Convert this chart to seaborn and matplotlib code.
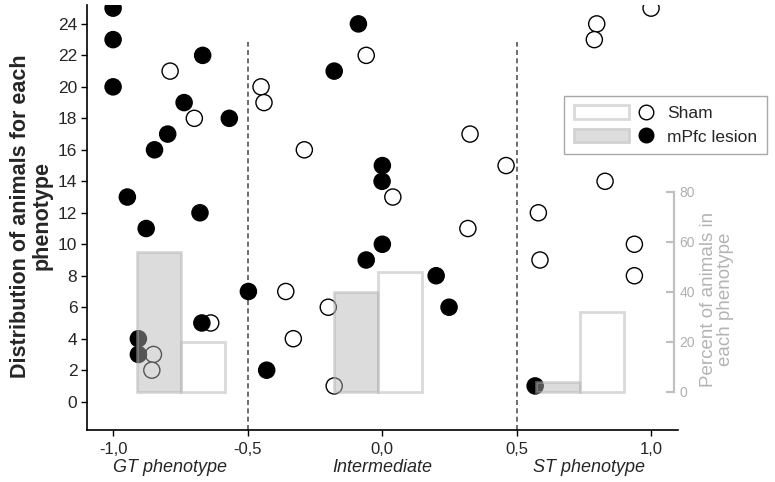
import numpy as np
import pandas as pd
import matplotlib
matplotlib.use("Agg")
import matplotlib.pyplot as plt
import seaborn as sns
from matplotlib.patches import Rectangle, Patch
from matplotlib.lines import Line2D

# ---------------- data ----------------
sham_x = [-0.788, -0.698, -0.637, -0.850, -0.856,
          -0.059, -0.450, -0.439, -0.289, 0.327, 0.461, 0.040, 0.319,
          -0.358, -0.200, -0.330, -0.178,
          1.000, 0.798, 0.789, 0.829, 0.581, 0.938, 0.587, 0.938]
sham_y = [21, 18, 5, 3, 2,
          22, 20, 19, 16, 17, 15, 13, 11,
          7, 6, 4, 1,
          25, 24, 23, 14, 12, 10, 9, 8]
lesion_x = [-1.000, -1.000, -0.667, -1.000, -0.736, -0.568, -0.797, -0.846,
            -0.947, -0.677, -0.877, -0.670, -0.906, -0.906,
            -0.497, -0.088, -0.178, 0.001, 0.000, 0.001, -0.059, 0.201, 0.249, -0.429,
            0.569]
lesion_y = [25, 23, 22, 20, 19, 18, 17, 16,
            13, 12, 11, 5, 4, 3,
            7, 24, 21, 15, 14, 10, 9, 8, 6, 2,
            1]
phenotypes = ["GT phenotype", "Intermediate", "ST phenotype"]
sham_pct = [20, 48, 32]
lesion_pct = [56, 40, 4]
x_ticks = [-1.0, -0.5, 0.0, 0.5, 1.0]
x_ticklabels = ["-1,0", "-0,5", "0,0", "0,5", "1,0"]
y_ticks = list(range(0, 25, 2))
pct_ticks = [0, 20, 40, 60, 80]
group_names = ["Sham", "mPfc lesion"]

# ---------------- layout constants ----------------
group_centres = [-0.748, -0.014, 0.737]
group_label_x = [-0.79, 0.0, 0.77]
bar_w = 0.164

df = pd.DataFrame({
    "x": sham_x + lesion_x,
    "y": sham_y + lesion_y,
    "group": [group_names[0]] * len(sham_x) + [group_names[1]] * len(lesion_x),
})

sns.set_theme(style="white")
plt.rcParams["font.family"] = ["Liberation Sans", "DejaVu Sans"]

W, H = 775, 482
fig = plt.figure(figsize=(W / 100, H / 100), dpi=100)
ax = fig.add_axes([87 / W, 1 - 430 / H, (677.7 - 87) / W, 425 / H])

sns.scatterplot(data=df, x="x", y="y", hue="group",
                palette={group_names[0]: "white", group_names[1]: "black"},
                edgecolor="black", linewidth=1.0, s=135, legend=False,
                zorder=3, ax=ax)

ax.set_xlim(-1.097, 1.099)
ax.set_ylim(-1.80, 25.2)
ax.vlines([-0.5, 0.5], -1.80, 22.87, colors="#555555",
          linestyles=(0, (3, 2)), linewidth=1.2, zorder=1)

for s in ["top", "right"]:
    ax.spines[s].set_visible(False)
for s in ["left", "bottom"]:
    ax.spines[s].set_color("black")
    ax.spines[s].set_linewidth(1.2)

ax.set_xticks(x_ticks)
ax.set_xticklabels(x_ticklabels)
ax.set_yticks(y_ticks)
ax.tick_params(axis="x", direction="out", length=4, width=1, color="black",
               labelsize=12, pad=5, bottom=True)
ax.tick_params(axis="y", direction="out", length=4, width=1, color="black",
               labelsize=12.5, pad=3, left=True)
ax.set_xlabel("")
ax.set_ylabel("")

for lx, name in zip(group_label_x, phenotypes):
    ax.text(lx, -0.0894, name, transform=ax.get_xaxis_transform(),
            ha="center", va="center", fontsize=13, style="italic")

fig.text(31 / W, 1 - 216 / H, "Distribution of animals for each\nphenotype",
         rotation=90, ha="center", va="center", fontsize=15.5,
         fontweight="bold", multialignment="center", linespacing=1.05)

# ---------------- percent bars on twin axis ----------------
ax2 = ax.twinx()
ax2.set_ylim(-15.2, 154.6)
centres = np.array(group_centres)
ax2.bar(centres - bar_w / 2, lesion_pct, width=bar_w, color="#b5b5b5",
        edgecolor="#b0b0b0", linewidth=2, alpha=0.47, zorder=4)
ax2.bar(centres + bar_w / 2, sham_pct, width=bar_w, color="white",
        edgecolor="#b0b0b0", linewidth=2, alpha=0.47, zorder=4)

for s in ["top", "left", "bottom"]:
    ax2.spines[s].set_visible(False)
ax2.spines["right"].set_bounds(0, 80)
ax2.spines["right"].set_position(("axes", 0.994))
ax2.spines["right"].set_color("#c0c0c0")
ax2.spines["right"].set_linewidth(1.6)
ax2.set_yticks(pct_ticks)
ax2.tick_params(axis="y", direction="in", length=6, width=1.6,
                color="#c0c0c0", labelcolor="#b0b0b0", labelsize=10, pad=4,
                right=True)
ax2.grid(False)
ax.grid(False)

fig.text(717 / W, 1 - 299 / H, "Percent of animals in\neach phenotype",
         rotation=90, ha="center", va="center", fontsize=13.5,
         color="#b4b4b4", multialignment="center", linespacing=1.05)


# ---------------- legend ----------------
class BarDotHandler:
    def legend_artist(self, legend, orig_handle, fontsize, handlebox):
        patch, dot = orig_handle
        x0, y0 = handlebox.xdescent, handlebox.ydescent
        w, h = handlebox.width, handlebox.height
        ph = 10
        rect = Rectangle((x0, y0 + h / 2 - ph / 2), w * 0.69, ph,
                         facecolor=patch.get_facecolor(),
                         edgecolor=patch.get_edgecolor(),
                         linewidth=patch.get_linewidth(),
                         transform=handlebox.get_transform())
        mk = Line2D([x0 + w * 0.91], [y0 + h / 2], marker="o",
                    markersize=10.5, markerfacecolor=dot.get_markerfacecolor(),
                    markeredgecolor="black", markeredgewidth=1.0,
                    linestyle="none", transform=handlebox.get_transform())
        handlebox.add_artist(rect)
        handlebox.add_artist(mk)
        return rect


h_sham = (Patch(facecolor="white", edgecolor="#dadada", linewidth=2),
          Line2D([], [], marker="o", markerfacecolor="white"))
h_les = (Patch(facecolor="#dddddd", edgecolor="#d2d2d2", linewidth=2),
         Line2D([], [], marker="o", markerfacecolor="black"))
leg = ax2.legend([h_sham, h_les], group_names,
                 handler_map={tuple: BarDotHandler()},
                 loc="upper left", bbox_to_anchor=(564 / W, 1 - 96 / H),
                 bbox_transform=fig.transFigure, borderaxespad=0,
                 fontsize=12.5, handlelength=4.6, handletextpad=0.8,
                 labelspacing=0.5, borderpad=0.55, fancybox=False,
                 framealpha=1, edgecolor="#a8a8a8")
leg.get_frame().set_linewidth(1.0)
leg.set_zorder(10)

fig.savefig("out.png", dpi=100)
